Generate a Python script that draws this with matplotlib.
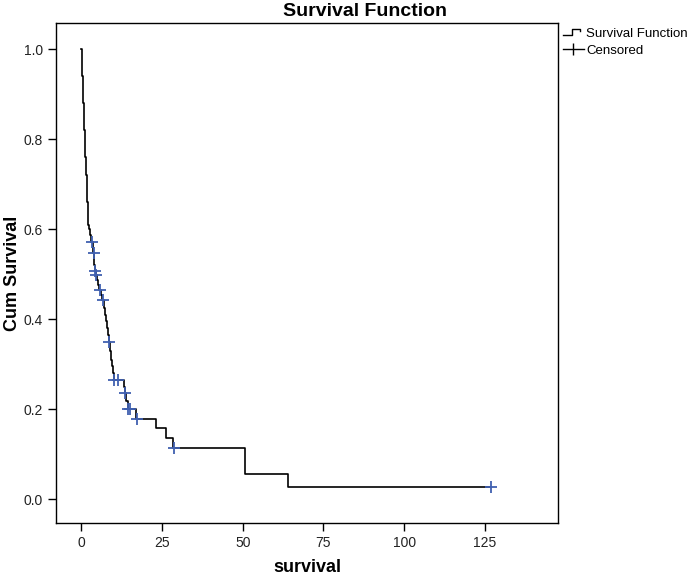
import matplotlib.pyplot as plt
from matplotlib.lines import Line2D
from matplotlib.legend_handler import HandlerBase

plt.rcParams['font.family'] = ['Liberation Sans', 'DejaVu Sans']

# event times and survival right after each event
event_time = [0.0, 0.15, 0.3, 0.4, 0.5, 0.6, 0.7, 0.8, 0.9, 1.0, 1.1, 1.2, 1.3, 1.4,
              1.5, 1.7, 1.8, 1.9, 2.0, 2.1, 2.2, 2.4, 2.7, 3.0, 3.6, 3.8, 4.0, 4.1,
              4.3, 4.5, 4.9, 5.2, 5.5, 6.2, 6.5, 7.0, 7.3, 7.6, 7.9, 8.2, 8.5, 8.8,
              9.1, 9.5, 9.8, 10.1, 13.2, 13.5, 14.0, 14.5, 17.1, 23.2, 26.2, 28.3,
              50.7, 64.0, 127.0]
survival = [1.0, 0.98, 0.96, 0.94, 0.92, 0.90, 0.88, 0.86, 0.84, 0.82, 0.80, 0.78,
            0.76, 0.74, 0.72, 0.70, 0.68, 0.66, 0.64, 0.62, 0.61, 0.60, 0.587, 0.571,
            0.559, 0.547, 0.535, 0.521, 0.507, 0.499, 0.487, 0.476, 0.464, 0.453,
            0.442, 0.425, 0.41, 0.395, 0.38, 0.365, 0.35, 0.33, 0.31, 0.295, 0.28,
            0.264, 0.249, 0.235, 0.218, 0.201, 0.179, 0.158, 0.136, 0.113, 0.0565,
            0.028, 0.028]

# censored cases
cens_time = [3.4, 3.9, 4.4, 4.6, 5.8, 6.7, 8.6, 10.2, 11.5, 13.7, 14.6, 15.1, 17.3,
             28.7, 126.8]
cens_surv = [0.571, 0.547, 0.507, 0.499, 0.464, 0.442, 0.35, 0.264, 0.264, 0.235,
             0.201, 0.201, 0.179, 0.113, 0.028]

xticks = [0, 25, 50, 75, 100, 125]
yticks = [0.0, 0.2, 0.4, 0.6, 0.8, 1.0]


class StepHandler(HandlerBase):
    # little step glyph like the SPSS legend
    def create_artists(self, legend, orig_handle, xdescent, ydescent, width, height, fontsize, trans):
        w, h = width, height
        xs = [0, 0.45 * w, 0.45 * w, 0.8 * w, 0.8 * w]
        ys = [0.2 * h, 0.2 * h, 0.9 * h, 0.9 * h, 0.6 * h]
        ln = Line2D(xs, ys, color='black', lw=1.0, transform=trans)
        return [ln]


fig = plt.figure(figsize=(6.89, 5.77), dpi=100)
ax = fig.add_axes([56 / 689, 1 - 523 / 577, 502 / 689, 500 / 577])

ax.step(event_time, survival, where='post', color='black', lw=1.2)
ax.plot(cens_time, cens_surv, linestyle='none', marker='+', color='#4060b0',
        markersize=8, markeredgewidth=1.3)

ax.set_xlim(-7.8, 147.6)
ax.set_ylim(-0.053, 1.058)
ax.set_xticks(xticks)
ax.set_yticks(yticks)
ax.set_yticklabels([f'{v:.1f}' for v in yticks])
ax.tick_params(direction='out', length=6, width=1, labelsize=10, colors='black')
ax.tick_params(labelcolor='#222222')
for s in ax.spines.values():
    s.set_linewidth(1.0)

fig.text(307 / 689, 1 - 568 / 577, 'survival', ha='center', va='center',
         fontsize=13, fontweight='bold')
fig.text(13 / 689, 1 - 273 / 577, 'Cum Survival', ha='center', va='center',
         rotation=90, fontsize=13, fontweight='bold')
fig.text(365 / 689, 1 - 11 / 577, 'Survival Function', ha='center', va='center',
         fontsize=14, fontweight='bold')

h_step = Line2D([], [], color='black')
h_cens = Line2D([], [], color='black', marker='|', linestyle='-', markersize=9,
                lw=1.0, markeredgewidth=1.0)
fig.legend([h_step, h_cens], ['Survival Function', 'Censored'],
           handler_map={h_step: StepHandler()},
           loc='upper left', bbox_to_anchor=(560 / 689, 1 - 25 / 577),
           frameon=False, fontsize=9.5, handlelength=1.6, handletextpad=0.2,
           labelspacing=0.35, borderpad=0.2, borderaxespad=0)

fig.savefig('out.png', dpi=100)
